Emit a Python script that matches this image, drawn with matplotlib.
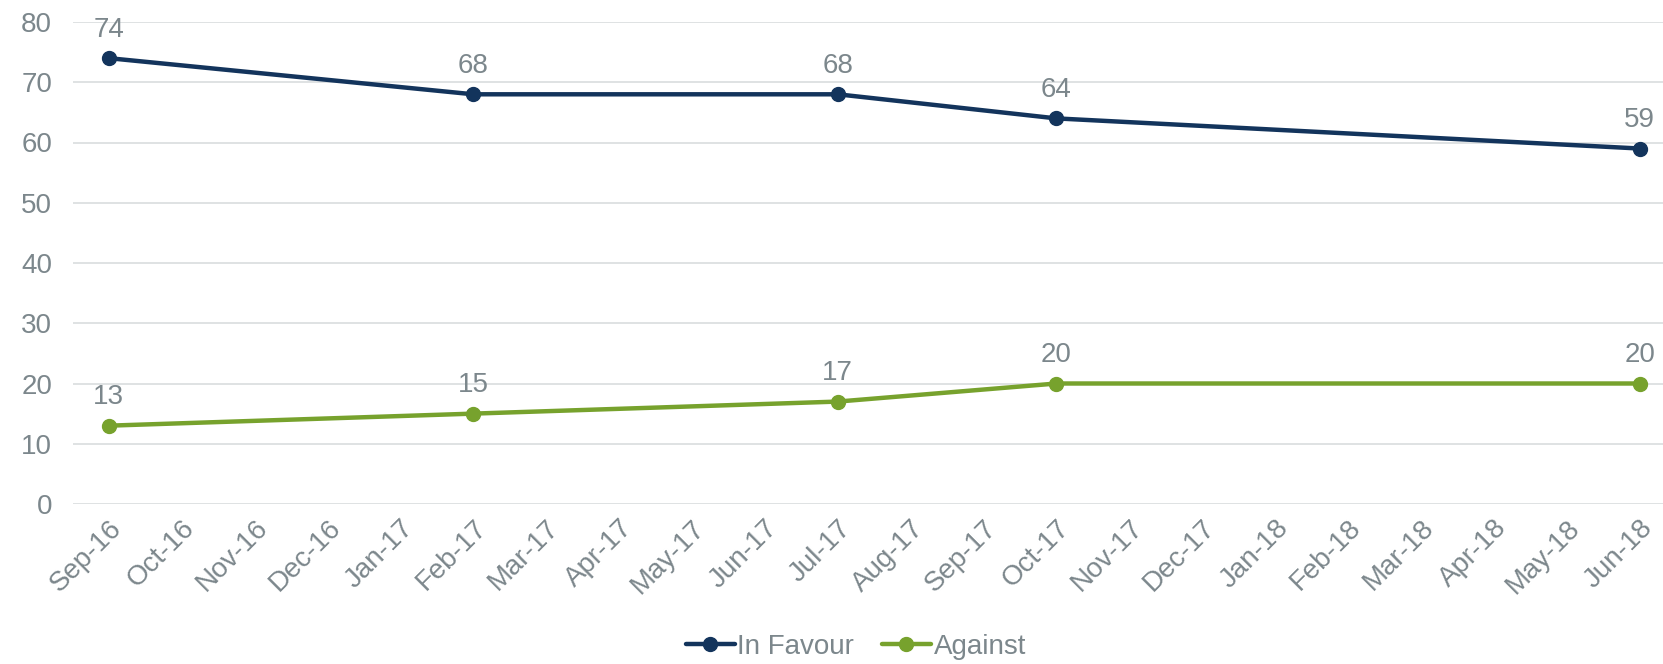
import numpy as np
import matplotlib as mpl
import matplotlib.pyplot as plt

mpl.rcParams["font.family"] = ["Liberation Sans", "DejaVu Sans"]

# ===================== Data =====================
months = ["Sep-16", "Oct-16", "Nov-16", "Dec-16", "Jan-17", "Feb-17", "Mar-17",
          "Apr-17", "May-17", "Jun-17", "Jul-17", "Aug-17", "Sep-17", "Oct-17",
          "Nov-17", "Dec-17", "Jan-18", "Feb-18", "Mar-18", "Apr-18", "May-18",
          "Jun-18"]
survey_months = ["Sep-16", "Feb-17", "Jul-17", "Oct-17", "Jun-18"]
in_favour = [74, 68, 68, 64, 59]
against = [13, 15, 17, 20, 20]

navy = "#13345c"
green = "#77a22d"
grey = "#7c878c"

# ===================== Figure =====================
fig = plt.figure(figsize=(16.63, 6.64), dpi=100)
ax = fig.add_axes([73 / 1663, 160 / 664, (1663 - 73) / 1663, 482 / 664])

xpos = [months.index(m) for m in survey_months]

for vals, col, name in [(in_favour, navy, "In Favour"), (against, green, "Against")]:
    ax.plot(xpos, vals, color=col, lw=3.2, marker="o", ms=10,
            solid_capstyle="round", label=name, zorder=3)
    for x, v in zip(xpos, vals):
        ax.annotate(str(v), (x, v), xytext=(0, 11), textcoords="offset points",
                    ha="center", va="bottom", fontsize=20, color=grey)

ax.set_xticks(range(len(months)))
ax.set_xticklabels(months, rotation=45, ha="right", rotation_mode="anchor")
ax.set_xlim(-0.49, 21.32)
ax.set_ylim(0, 80)
ax.set_yticks(np.arange(0, 81, 10))

ax.grid(axis="y", color="#dcdfe0", lw=1.3)
ax.set_axisbelow(True)
for s in ax.spines.values():
    s.set_visible(False)
ax.tick_params(axis="both", length=0, labelsize=20, labelcolor=grey)
ax.tick_params(axis="y", pad=15)
ax.tick_params(axis="x", pad=8)

fig.legend(loc="center", bbox_to_anchor=(856 / 1663, 1 - 647 / 664), ncol=2,
           frameon=False, fontsize=20, labelcolor=grey, handlelength=1.75,
           handletextpad=0.1, columnspacing=1.0)

fig.savefig("out.png", dpi=100)
